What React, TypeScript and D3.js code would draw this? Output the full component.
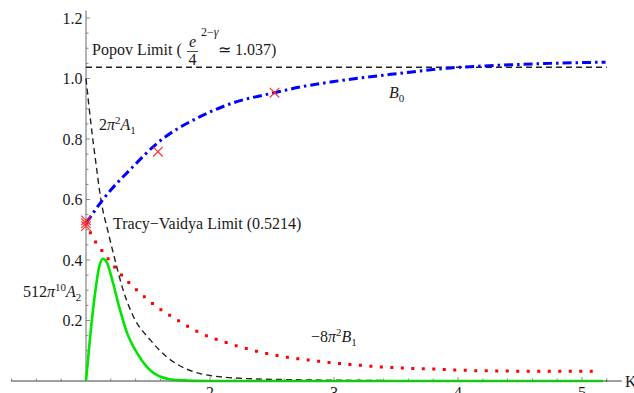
import React from 'react';
import * as d3 from 'd3';

const W = 634;
const H = 393;

// B0 (blue dash-dot)
const kB0 = [1, 1.137, 1.38, 1.58, 1.92, 2.19, 2.52, 2.73, 3.0, 3.53, 3.94, 4.34, 4.74, 5.19];
const valB0 = [0.5214, 0.6, 0.709, 0.788, 0.874, 0.92, 0.953, 0.972, 0.99, 1.017, 1.035, 1.044, 1.05, 1.054];

// 2π²A1 (black dashed)
const kA1 = [1, 1.04, 1.08, 1.12, 1.18, 1.234, 1.3, 1.38, 1.52, 1.65, 1.82, 2.0, 2.3, 2.7, 3.2, 4.0, 5.2];
const valA1 = [1.0, 0.85, 0.72, 0.6, 0.49, 0.4, 0.3, 0.215, 0.135, 0.08, 0.038, 0.018, 0.008, 0.004, 0.002, 0.0005, 0];

// −8π²B1 (red dotted)
const kB1 = [1, 1.073, 1.113, 1.161, 1.218, 1.298, 1.411, 1.573, 1.734, 1.919, 2.137, 2.403, 2.669, 2.99, 3.27, 3.53, 3.8, 4.07, 4.34, 4.6, 5.09];
const valB1 = [0.5214, 0.462, 0.44, 0.413, 0.383, 0.345, 0.3, 0.245, 0.202, 0.159, 0.126, 0.096, 0.076, 0.06, 0.05, 0.043, 0.04, 0.035, 0.033, 0.032, 0.032];

// 512π¹⁰A2 (green)
const kA2 = [1, 1.016, 1.032, 1.073, 1.105, 1.137, 1.17, 1.218, 1.274, 1.331, 1.411, 1.492, 1.597, 1.734, 2.0, 5.17];
const valA2 = [0, 0.07, 0.14, 0.29, 0.375, 0.404, 0.39, 0.324, 0.235, 0.159, 0.093, 0.046, 0.015, 0.003, 0, 0];

// Popov limit e^(2−γ)/4
const popovValue = 1.037;
const popovRange = [1, 5.2];

// computed points (red crosses)
const markK = [1, 1, 1, 1.58, 2.52];
const markVal = [0.512, 0.5214, 0.531, 0.758, 0.953];

const xTickValues = [2, 3, 4, 5];
const yTickValues = [0.2, 0.4, 0.6, 0.8, 1.0, 1.2];

const FONT = '"Liberation Serif", "Times New Roman", Times, serif';
const TXT = '#1a1a1a';
const AXIS = '#6a6a6a';

export default function App() {
  const x = d3.scaleLinear().domain([1, 5]).range([86, 582]);
  const y = d3.scaleLinear().domain([0, 1.2]).range([381, 18]);
  const zip = (a: number[], b: number[]) => a.map((v, i) => [v, b[i]] as [number, number]);
  const line = d3
    .line<[number, number]>()
    .x((d) => x(d[0]))
    .y((d) => y(d[1]))
    .curve(d3.curveMonotoneX);

  const xMinor = d3.range(0.4, 5.3, 0.2).filter((v) => Math.abs(v - 1) > 1e-6);
  const yMinor = d3.range(0.05, 1.21, 0.05);
  const xAxisStart = x(0.395);
  const xAxisEnd = x(5.32);
  const y0 = y(0);

  const sup = { fontSize: 11 };

  return (
    <svg
      width={W}
      height={H}
      style={{ position: 'absolute', left: 0, top: 0, background: '#fff', overflow: 'hidden' }}
      fontFamily={FONT}
    >
      {/* axes */}
      <line x1={xAxisStart} x2={xAxisEnd} y1={y0} y2={y0} stroke={AXIS} strokeWidth={1} />
      <line x1={x(1)} x2={x(1)} y1={y0} y2={y(1.225)} stroke={AXIS} strokeWidth={1} />
      {xMinor.map((v, i) => {
        const major = Math.abs(v - Math.round(v)) < 1e-6;
        return (
          <line key={'xt' + i} x1={x(v)} x2={x(v)} y1={y0} y2={y0 - (major ? 4 : 2.5)} stroke={AXIS} strokeWidth={0.8} />
        );
      })}
      {yMinor.map((v, i) => {
        const major = Math.abs(v / 0.2 - Math.round(v / 0.2)) < 1e-6;
        return (
          <line key={'yt' + i} x1={x(1)} x2={x(1) + (major ? 4 : 2.5)} y1={y(v)} y2={y(v)} stroke={AXIS} strokeWidth={0.8} />
        );
      })}
      {yTickValues.map((v) => (
        <text key={'yl' + v} x={x(1) - 3.5} y={y(v) + 5.5} textAnchor="end" fontSize={16} fill={TXT}>
          {v.toFixed(1)}
        </text>
      ))}
      {xTickValues.map((v) => (
        <text key={'xl' + v} x={x(v)} y={y0 + 17} textAnchor="middle" fontSize={16} fill={TXT}>
          {v}
        </text>
      ))}
      <text x={625} y={386.5} fontSize={16} fill={TXT}>K</text>

      {/* Popov limit */}
      <line
        x1={x(popovRange[0])}
        x2={x(popovRange[1])}
        y1={y(popovValue)}
        y2={y(popovValue)}
        stroke="#222"
        strokeWidth={1.4}
        strokeDasharray="6 4"
      />
      {/* 2π²A1 */}
      <path d={line(zip(kA1, valA1)) || ''} fill="none" stroke="#222" strokeWidth={1.4} strokeDasharray="6 4" />
      {/* 512π¹⁰A2 */}
      <path d={line(zip(kA2, valA2)) || ''} fill="none" stroke="#00e600" strokeWidth={2.6} />
      {/* −8π²B1 */}
      <path
        d={line(zip(kB1, valB1)) || ''}
        fill="none"
        stroke="#ff0000"
        strokeWidth={3}
        strokeDasharray="0 10.5"
        strokeLinecap="square"
      />
      {/* B0 */}
      <path
        d={line(zip(kB0, valB0)) || ''}
        fill="none"
        stroke="#0000ff"
        strokeWidth={3}
        strokeDasharray="9 4 2.5 4"
      />
      {/* axis shows through the green line */}
      <line x1={xAxisStart} x2={xAxisEnd} y1={y0} y2={y0} stroke={AXIS} strokeWidth={1} opacity={0.55} />

      {/* crosses */}
      {markK.map((k, i) => {
        const cx = x(k);
        const cy = y(markVal[i]);
        const r = 4.8;
        return (
          <g key={'m' + i} stroke="#ff3333" strokeWidth={1.2}>
            <line x1={cx - r} y1={cy - r} x2={cx + r} y2={cy + r} />
            <line x1={cx - r} y1={cy + r} x2={cx + r} y2={cy - r} />
          </g>
        );
      })}

      {/* labels */}
      <text x={92} y={55} fontSize={16} fill={TXT}>Popov Limit (</text>
      <text x={192.5} y={47} fontSize={16} fill={TXT} textAnchor="middle" fontStyle="italic">e</text>
      <line x1={187} x2={198} y1={51.5} y2={51.5} stroke={TXT} strokeWidth={0.8} />
      <text x={192.5} y={65} fontSize={16} fill={TXT} textAnchor="middle">4</text>
      <text x={201} y={36} fontSize={12} fill={TXT}>
        2−<tspan fontStyle="italic">γ</tspan>
      </text>
      <text x={218} y={55} fontSize={16} fill={TXT}>≃ 1.037)</text>

      <text x={99} y={130} fontSize={16} fill={TXT}>
        2<tspan fontStyle="italic">π</tspan>
        <tspan dy={-6} {...sup}>2</tspan>
        <tspan dy={6} fontStyle="italic">A</tspan>
        <tspan dy={4} {...sup}>1</tspan>
      </text>

      <text x={389} y={98} fontSize={16} fill={TXT}>
        <tspan fontStyle="italic">B</tspan>
        <tspan dy={4} {...sup}>0</tspan>
      </text>

      <text x={113} y={229} fontSize={16} fill={TXT}>Tracy−Vaidya Limit (0.5214)</text>

      <text x={23} y={297} fontSize={16} fill={TXT}>
        512<tspan fontStyle="italic">π</tspan>
        <tspan dy={-6} {...sup}>10</tspan>
        <tspan dy={6} fontStyle="italic">A</tspan>
        <tspan dy={4} {...sup}>2</tspan>
      </text>

      <text x={311} y={342} fontSize={16} fill={TXT}>
        −8<tspan fontStyle="italic">π</tspan>
        <tspan dy={-6} {...sup}>2</tspan>
        <tspan dy={6} fontStyle="italic">B</tspan>
        <tspan dy={4} {...sup}>1</tspan>
      </text>
    </svg>
  );
}
